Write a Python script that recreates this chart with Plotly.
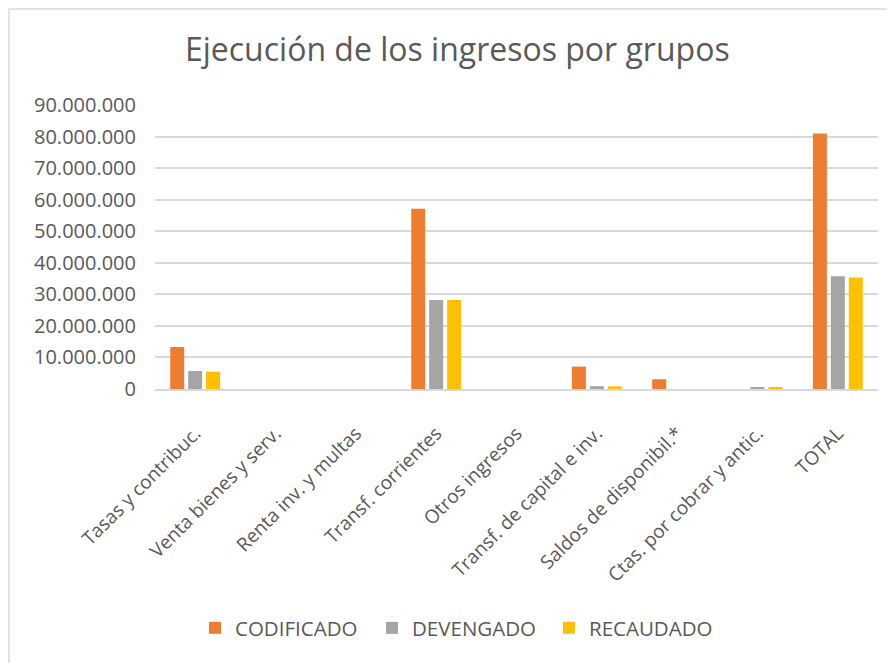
import plotly.graph_objects as go

categories = ["Tasas y contribuc.", "Venta bienes y serv.", "Renta inv. y multas",
              "Transf. corrientes", "Otros ingresos", "Transf. de capital e inv.",
              "Saldos de disponibil.*", "Ctas. por cobrar y antic.", "TOTAL"]
codificado = [13300000, 0, 0, 57100000, 0, 7100000, 3100000, 0, 81000000]
devengado = [5700000, 0, 0, 28200000, 0, 900000, 0, 600000, 35700000]
recaudado = [5500000, 0, 0, 28200000, 0, 850000, 0, 550000, 35300000]
tick_vals = [0, 10000000, 20000000, 30000000, 40000000, 50000000, 60000000, 70000000, 80000000, 90000000]

FONT = "Open Sans"
TXT = "#595959"

L, R, T, B = 147, 25, 97, 282
PW, PH = 895 - L - R, 663 - T - B

fig = go.Figure()
for name, vals, col in [("CODIFICADO", codificado, "#ED7D31"),
                        ("DEVENGADO", devengado, "#A5A5A5"),
                        ("RECAUDADO", recaudado, "#FFC000")]:
    fig.add_trace(go.Bar(x=categories, y=vals, name=name, marker_color=col,
                         marker_line_width=0))

fig.update_layout(
    width=895, height=663,
    paper_bgcolor="white", plot_bgcolor="white",
    separators=",.",
    margin=dict(l=L, r=R, t=T, b=B, autoexpand=False),
    barmode="group", bargap=0.33, bargroupgap=0.22,
    title=dict(text="Ejecución de los ingresos por grupos", x=0.502, xanchor="center",
               y=0.937, yanchor="middle",
               font=dict(family=FONT, size=32, color=TXT)),
    font=dict(family=FONT, color=TXT),
    legend=dict(orientation="h", x=(195 - 8 - L) / PW, xanchor="left",
                y=(663 - 620 - B) / PH, yanchor="middle",
                font=dict(family=FONT, size=20.5, color=TXT), itemwidth=30,
                entrywidth=132, entrywidthmode="pixels",
                traceorder="normal"),
    xaxis=dict(tickangle=-45, tickfont=dict(family=FONT, size=19, color=TXT),
               showline=True, linecolor="#D9D9D9", linewidth=1.5, ticks="",
               automargin=False, ticklabelstandoff=24),
    yaxis=dict(range=[0, 90000000], tickvals=tick_vals, tickformat=",d",
               tickfont=dict(family=FONT, size=20, color=TXT),
               showgrid=True, gridcolor="#D9D9D9", gridwidth=1.5,
               zeroline=False, ticks="", ticklabelstandoff=18, automargin=False),
    shapes=[dict(type="rect", xref="paper", yref="paper",
                 x0=(-L + 1) / PW, x1=1.2, y0=-1.5, y1=1 + (T - 1) / PH,
                 line=dict(color="#D9D9D9", width=1.5), fillcolor="rgba(0,0,0,0)",
                 layer="below")],
)

fig.write_html("out.html")
